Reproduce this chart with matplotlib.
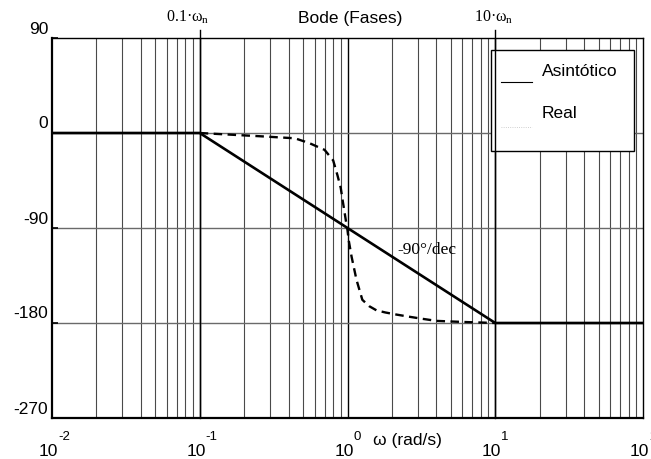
import matplotlib
matplotlib.use("Agg")
import matplotlib.pyplot as plt
from matplotlib.transforms import offset_copy, blended_transform_factory
from matplotlib.patches import Rectangle
from matplotlib.lines import Line2D

# ---------------- data ----------------
w_asym = [0.01, 0.1, 10, 100]
ph_asym = [0, 0, -180, -180]

w_real = [0.1, 0.25, 0.44, 0.55, 0.70, 0.80, 0.855, 0.90, 0.925, 0.955, 0.98,
          1.0, 1.02, 1.065, 1.15, 1.26, 1.40, 1.57, 1.8, 2.14, 2.6, 3.2,
          4.0, 6.0, 10.0]
ph_real = [0, -3, -5, -9.5, -16, -26, -40, -52, -63, -75, -85,
           -92, -102, -117, -139, -158, -164, -168, -170, -172, -174, -176,
           -178, -179, -180]

x_decades = [-2, -1, 0, 1, 2]
y_ticks = [90, 0, -90, -180, -270]
y_grid = [0, -90, -180]
marks = [0.1, 10]
mark_labels = [r"$\mathrm{0.1·\omega_n}$", r"$\mathrm{10·\omega_n}$"]
mark_offsets = [-12, -2]
slope_label = "-90°/dec"
slope_pos = (3.42, -111)
title = "Bode (Fases)"
xlabel = "ω (rad/s)"
legend_labels = ["Asintótico", "Real"]

# ---------------- style ----------------
plt.rcParams['font.family'] = ['Liberation Sans', 'DejaVu Sans']
plt.rcParams['mathtext.fontset'] = 'custom'
plt.rcParams['mathtext.rm'] = 'Liberation Serif'
plt.rcParams['mathtext.it'] = 'Liberation Serif:italic'

fig = plt.figure(figsize=(6.51, 4.59), dpi=100)
ax = fig.add_axes([52/651, 1-418/459, (643-52)/651, (418-38)/459])

ax.set_xscale('log')
ax.set_xlim(10.0**x_decades[0], 10.0**x_decades[-1])
ax.set_ylim(min(y_ticks), max(y_ticks))

# grid
for d in x_decades[:-1]:
    for m in range(2, 10):
        ax.axvline(m * 10.0**d, color='#4a4a4a', lw=0.8, zorder=1)
for d in x_decades[1:-1]:
    ax.axvline(10.0**d, color='black', lw=1.0, zorder=1)
for g in y_grid:
    ax.axhline(g, color='#6a6a6a', lw=1.0, zorder=1)

# data lines
ax.plot(w_asym, ph_asym, color='black', lw=1.9, zorder=4, solid_capstyle='butt')
ln, = ax.plot(w_real, ph_real, color='black', lw=1.7, zorder=3)
ln.set_dashes((3.6, 2.3))

# ticks & spines
ax.set_xticks([])
ax.set_xticks([], minor=True)
ax.set_yticks(y_ticks)
ax.set_yticklabels([])
ax.tick_params(axis='y', direction='in', length=4, width=1.2)
for s in ['left', 'bottom']:
    ax.spines[s].set_linewidth(1.6)
for s in ['top', 'right']:
    ax.spines[s].set_linewidth(1.0)

# y labels
ytr = blended_transform_factory(ax.transAxes, ax.transData)
ytr_off = offset_copy(ytr, fig=fig, x=-4, y=9, units='dots')
for v in y_ticks:
    ax.text(0, v, str(v), transform=ytr_off, ha='right', va='center',
            fontsize=12.5, clip_on=False)

# x labels (10 with superscript)
xtr = blended_transform_factory(ax.transData, ax.transAxes)
base_tr = offset_copy(xtr, fig=fig, x=6, y=-34, units='dots')
exp_tr = offset_copy(xtr, fig=fig, x=6, y=-19, units='dots')
for d in x_decades:
    ax.text(10.0**d, 0, "10", transform=base_tr, ha='right', va='center',
            fontsize=12.5, clip_on=False)
    ax.text(10.0**d, 0, str(d), transform=exp_tr, ha='left', va='center',
            fontsize=9.5, clip_on=False)

# marker lines at 0.1 wn and 10 wn (extend above axes)
for m, lab, off in zip(marks, mark_labels, mark_offsets):
    ax.axvline(m, ymin=0, ymax=1.02, color='black', lw=1.0, zorder=6,
               clip_on=False)
    ax.text(m, 1, lab, transform=offset_copy(xtr, fig=fig, x=off, y=21, units='dots'),
            ha='center', va='center', fontsize=11.5, clip_on=False)

ax.text(slope_pos[0], slope_pos[1], slope_label, family='Liberation Serif',
        fontsize=12.5, ha='center', va='center', zorder=7)

fig.text(350/651, 1-18/459, title, ha='center', va='center', fontsize=12.5)
fig.text(407/651, 1-440/459, xlabel, ha='center', va='center', fontsize=12.5)

# legend (manual)
lx0, lx1 = (491-52)/591, (634-52)/591
ly0, ly1 = (418-151)/380, (418-50)/380
ax.add_patch(Rectangle((lx0, ly0), lx1-lx0, ly1-ly0, transform=ax.transAxes,
                       facecolor='white', edgecolor='black', lw=1.0, zorder=5,
                       clip_on=False))
ax.add_line(Line2D([(501-52)/591, (532-52)/591], [(418-82)/380]*2,
                   transform=ax.transAxes, color='black', lw=0.8, zorder=6))
ax.add_line(Line2D([(501-52)/591, (532-52)/591], [(418-127)/380]*2,
                   transform=ax.transAxes, color='#c0c0c0', lw=0.6,
                   linestyle=':', zorder=6))
ax.text((542-52)/591, (418-72)/380, legend_labels[0], transform=ax.transAxes,
        ha='left', va='center', fontsize=12.5, zorder=7)
ax.text((542-52)/591, (418-113)/380, legend_labels[1], transform=ax.transAxes,
        ha='left', va='center', fontsize=12.5, zorder=7)

fig.savefig("out.png", dpi=100)
